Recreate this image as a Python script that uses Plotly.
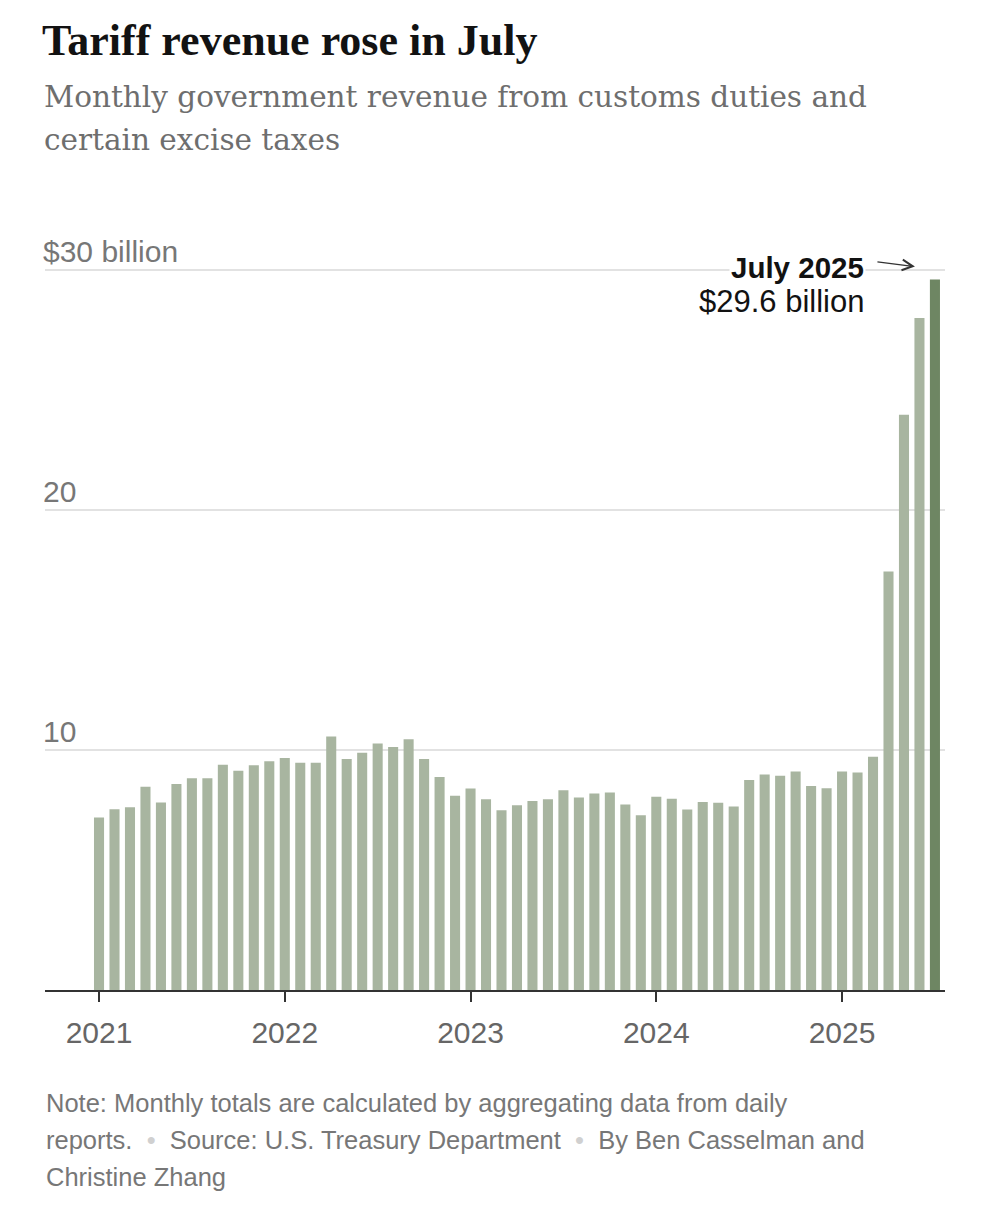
import plotly.graph_objects as go

# monthly customs duties + certain excise taxes, billions of dollars
months = [f"{y}-{m:02d}" for y in range(2021, 2026) for m in range(1, 13)][:55]
revenue = [
    7.19, 7.53, 7.61, 8.47, 7.81, 8.58, 8.82, 8.82, 9.39, 9.14, 9.36, 9.53,     # 2021
    9.67, 9.47, 9.47, 10.56, 9.62, 9.89, 10.27, 10.13, 10.45, 9.62, 8.87, 8.09,  # 2022
    8.40, 7.95, 7.49, 7.70, 7.87, 7.95, 8.32, 8.02, 8.19, 8.23, 7.73, 7.28,     # 2023
    8.05, 7.97, 7.52, 7.83, 7.80, 7.65, 8.75, 8.98, 8.93, 9.10, 8.50, 8.41,     # 2024
    9.10, 9.06, 9.72, 17.44, 23.97, 28.0, 29.6,                                 # 2025
]
year_ticks = ["2021-01", "2022-01", "2023-01", "2024-01", "2025-01"]
year_labels = ["2021", "2022", "2023", "2024", "2025"]
y_ticks = [10, 20, 30]
y_labels = ["10", "20", "$30 billion"]

LIGHT = "#a8b5a0"
DARK = "#6e8663"
SANS = "Liberation Sans, Arial, sans-serif"
SERIF = "DejaVu Serif, Georgia, serif"
DOT = "<span style='color:#d0d0d0'>\u2022</span>"

colors = [LIGHT] * (len(months) - 1) + [DARK]

# page body adds 8px, so everything below is placed 8px up/left of the target
Y_TOP = 30.25
PX_PER_UNIT = 24
plot_h = Y_TOP * PX_PER_UNIT
m_top = 982 - plot_h

fig = go.Figure(go.Bar(x=months, y=revenue, marker=dict(color=colors, line_width=0)))

fig.update_layout(
    width=985, height=1205,
    margin=dict(l=37, r=48, t=m_top, b=1205 - 982),
    paper_bgcolor="white", plot_bgcolor="white",
    bargap=0.35, showlegend=False,
    title=dict(
        text="<b>Tariff revenue rose in July</b>",
        font=dict(family="Liberation Serif, Times New Roman, serif", size=44, color="#121212"),
        xref="container", x=34 / 985, xanchor="left",
        yref="container", y=1 - 32 / 1205, yanchor="middle",
    ),
)

fig.update_xaxes(
    type="category", range=[-3.49, 54.65],
    tickmode="array", tickvals=year_ticks, ticktext=year_labels,
    ticks="outside", ticklen=10, tickwidth=1.5, tickcolor="#333",
    ticklabelstandoff=5,
    tickfont=dict(family=SANS, size=30, color="#666"),
    showline=True, linecolor="#333", linewidth=2,
    showgrid=False, zeroline=False,
)
fig.update_yaxes(
    range=[0, Y_TOP], tickvals=y_ticks, showticklabels=False,
    showgrid=True, gridcolor="#e2e2e2", gridwidth=1.5,
    zeroline=False, showline=False,
)


def paper_y(px):
    # screen pixel row -> paper coordinate
    return (982 - (px - 8)) / plot_h


# subtitle, one annotation per line
for i, line in enumerate(["Monthly government revenue from customs duties and", "certain excise taxes"]):
    fig.add_annotation(
        text=line, xref="paper", x=0, xshift=-3, xanchor="left", align="left",
        yref="paper", y=paper_y(97 + 43 * i), yanchor="middle", showarrow=False,
        font=dict(family=SERIF, size=29.5, color="#6e6e6e"),
    )

# y-axis labels sitting on the grid lines
for v, lab in zip(y_ticks, y_labels):
    fig.add_annotation(
        text=lab, xref="paper", x=0, xshift=-4, xanchor="left",
        y=v, yanchor="bottom", yshift=0, showarrow=False,
        font=dict(family=SANS, size=30, color="#777"),
    )

# July 2025 callout
fig.add_annotation(
    text="<b>July 2025</b>", x=months[-1], y=revenue[-1], xanchor="right", yanchor="middle",
    xshift=-69, yshift=12, showarrow=False, bgcolor="white",
    font=dict(family=SANS, size=29.5, color="#121212"),
)
fig.add_annotation(
    text="$29.6 billion", x=months[-1], y=revenue[-1], xanchor="right", yanchor="middle",
    xshift=-69, yshift=-22, showarrow=False,
    font=dict(family=SANS, size=31, color="#121212"),
)
fig.add_annotation(
    text="", x=months[-1], y=revenue[-1], xshift=-20, yshift=13,
    showarrow=True, ax=-39, ay=-5, arrowhead=5, arrowsize=1.6, arrowwidth=1.3, arrowcolor="#333",
)

# footnote
note_lines = [
    "Note: Monthly totals are calculated by aggregating data from daily",
    f"reports. &nbsp;{DOT}&nbsp; Source: U.S. Treasury Department &nbsp;{DOT}&nbsp; By Ben Casselman and",
    "Christine Zhang",
]
for i, line in enumerate(note_lines):
    fig.add_annotation(
        text=line, xref="paper", x=0, xshift=-1, xanchor="left", align="left",
        yref="paper", y=paper_y(1103 + 37 * i), yanchor="middle", showarrow=False,
        font=dict(family=SANS, size=25.5, color="#777"),
    )

fig.write_html("out.html")
